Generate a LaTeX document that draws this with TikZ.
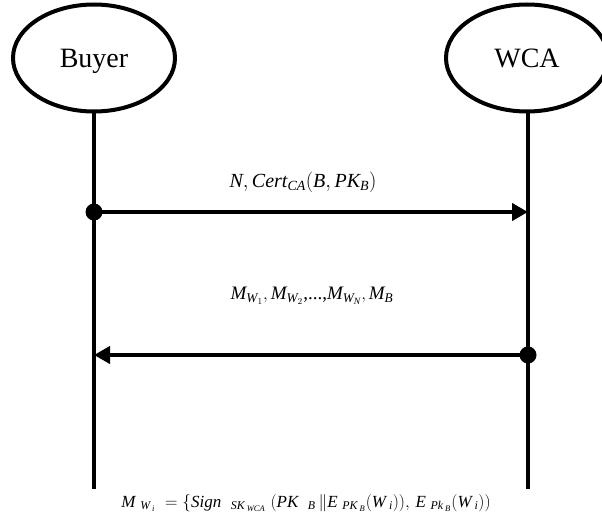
\documentclass[tikz,border=0pt]{standalone}
\usepackage{amsmath}
\usepackage{fontspec}
\setmainfont{Liberation Serif}
\usetikzlibrary{arrows.meta,shapes.geometric}
\newcommand{\ti}[1]{\text{\itshape #1}}
\newcommand{\acttext}[1]{\raisebox{-10pt}[0pt][0pt]{#1}}
\tikzset{
  actor/.style={ellipse,draw,line width=4pt,minimum width=162pt,minimum height=107pt,inner sep=0pt,font=\fontsize{28}{30}\selectfont},
  life/.style={line width=4.5pt},
  msg/.style={line width=4.5pt,-{Triangle[length=16pt,width=17pt]}},
  lbl/.style={font=\fontsize{18}{20}\selectfont,inner sep=0pt},
  dotmark/.style={circle,fill,inner sep=0pt,minimum size=17pt}
}
\begin{document}
\begin{tikzpicture}[x=1pt,y=-1pt]
\useasboundingbox (0,0) rectangle (602,524);
\begin{scope}
\clip (0,0) rectangle (602,524);
\node[actor] (buyer) at (94,58) {\acttext{Buyer}};
\node[actor] (wca) at (527,58) {\acttext{WCA}};
\end{scope}
\coordinate (bend) at (94,489);
\coordinate (wend) at (528,489);
\coordinate (b1) at (94,212);
\coordinate (w1) at (528,212);
\coordinate (b2) at (94,355);
\coordinate (w2) at (528,355);
\draw[life] (buyer.south) -- (bend);
\draw[life] (wca.south -| wend) -- (wend);
\draw[msg] (b1) -- (w1);
\node[dotmark] (d1) at (b1) {};
\draw[msg] (w2) -- (b2);
\node[dotmark] (d2) at (w2) {};
\node[lbl,font=\fontsize{20}{22}\selectfont] (l1) at (303,182) {$\ti{N},\ti{Cert}_{\ti{CA}}(\ti{B},\ti{PK}_{\ti{B}})$};
\node[lbl,font=\fontsize{19}{21}\selectfont] (l2) at (312,296) {$\ti{M}_{\ti{W}_{1}},\ti{M}_{\ti{W}_{2}}\text{,...,}\ti{M}_{\ti{W}_{\ti{N}}},\ti{M}_{\ti{B}}$};
\node[lbl,font=\fontsize{17}{19}\selectfont] (f) at (306,503) {$\ti{M}\;_{\ti{W}\,_{\ti{i}}}\;=\{\ti{Sign}\;\;_{\ti{SK}\,_{\ti{WCA}}}\;(\ti{PK}\;\;_{\ti{B}}\,\|\ti{E}\;_{\ti{PK}\,_{\ti{B}}}(\ti{W}\,_{\ti{i}})),\,\ti{E}\;_{\ti{Pk}\,_{\ti{B}}}(\ti{W}\,_{\ti{i}}))$};
\end{tikzpicture}
\end{document}
